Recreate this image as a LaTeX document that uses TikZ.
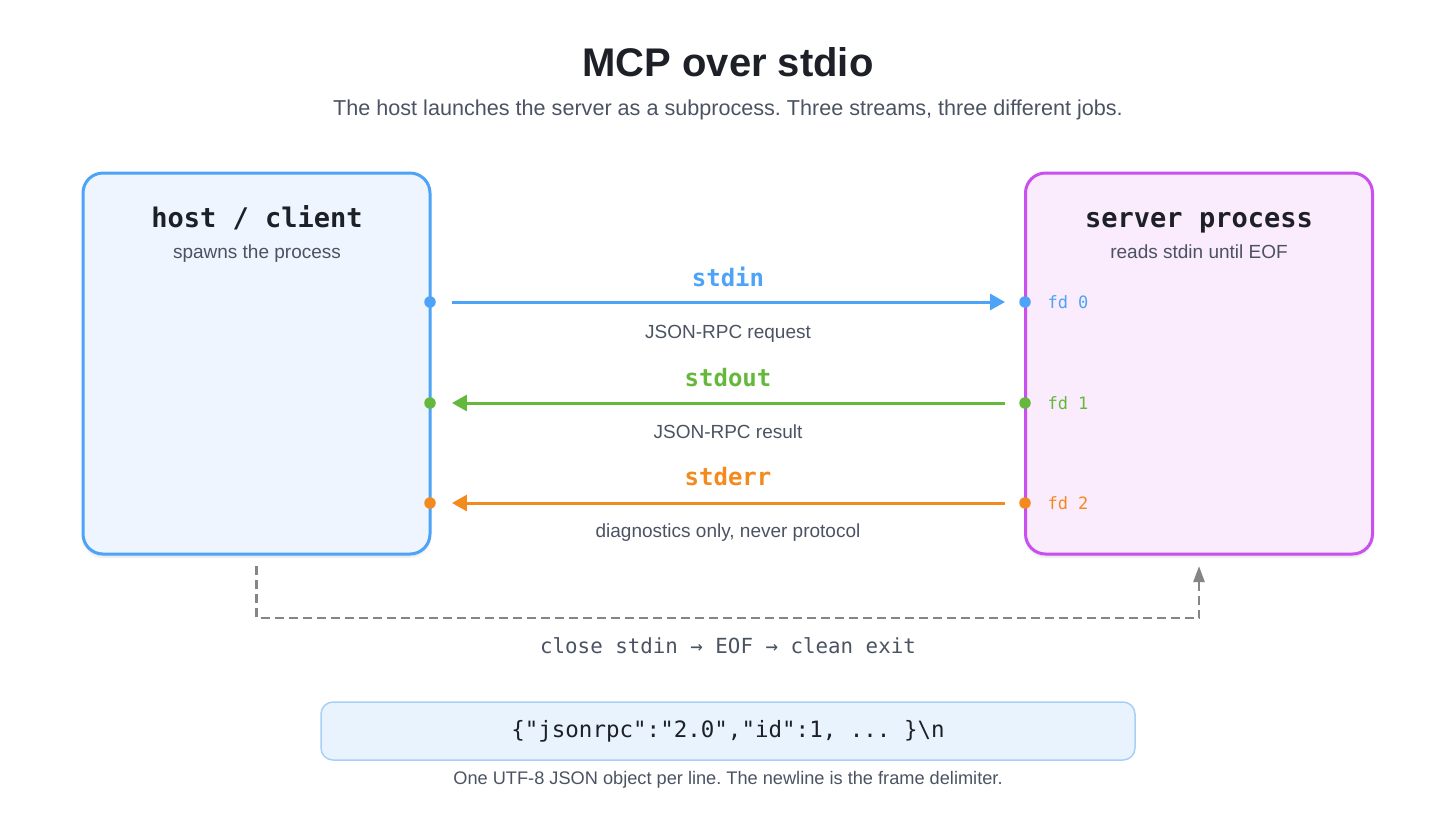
\documentclass[tikz,border=0pt]{standalone}
\usepackage{fontspec}
\setmainfont{Liberation Sans}
\setsansfont{Liberation Sans}
\setmonofont{DejaVu Sans Mono}
\usetikzlibrary{arrows.meta, positioning, shadows.blur}
\frenchspacing

\definecolor{inblue}{HTML}{4DA3F7}
\definecolor{outgreen}{HTML}{64B93C}
\definecolor{errorange}{HTML}{F38A1E}
\definecolor{srvpurple}{HTML}{C94FEF}
\definecolor{hostfill}{HTML}{EEF5FE}
\definecolor{srvfill}{HTML}{FAEBFD}
\definecolor{ink}{HTML}{1D2127}
\definecolor{slate}{HTML}{4B5363}
\definecolor{dashgrey}{HTML}{858585}
\definecolor{framefill}{HTML}{E9F3FD}
\definecolor{frameline}{HTML}{A8D0F6}

\tikzset{
  procbox/.style={draw, line width=3pt, rounded corners=20pt,
    minimum width=347pt, minimum height=381pt,
    blur shadow={shadow xshift=0pt, shadow yshift=-3pt,
      shadow blur steps=6, shadow opacity=12}},
  boxtitle/.style={anchor=base, text=ink, font=\ttfamily\bfseries\fontsize{27}{32}\selectfont},
  port/.style={circle, inner sep=0pt, minimum size=11.5pt},
  stream/.style={line width=3pt, -{Triangle[length=15pt, width=16pt]}},
  streamname/.style={font=\ttfamily\bfseries\fontsize{24}{28}\selectfont},
  note/.style={anchor=base, text=slate, font=\fontsize{19}{22}\selectfont},
  fdlabel/.style={anchor=west, font=\ttfamily\fontsize{17}{20}\selectfont},
  exitpath/.style={line width=2.5pt, dashgrey, dash pattern=on 9pt off 5pt,
    -{Triangle[length=16pt, width=11pt]}},
}

\begin{document}
\begin{tikzpicture}[x=1pt, y=-1pt]
  \useasboundingbox (0,0) rectangle (1456,815);

  % titulo
  \node[text=ink, font=\bfseries\fontsize{40}{46}\selectfont] (title) at (728,62) {MCP over stdio};
  \node[text=slate, font=\fontsize{21.6}{25}\selectfont] (subtitle) at (728,110)
    {The host launches the server as a subprocess. Three streams, three different jobs.};

  % caixas dos processos
  \node[procbox, draw=inblue, fill=hostfill] (host) at (256.5,363.5) {};
  \node[procbox, draw=srvpurple, fill=srvfill] (server) at (1199,363.5) {};
  \node[boxtitle] (hosttitle) at (257,227) {host / client};
  \node[note] (hostnote) at (257,258.5) {spawns the process};
  \node[boxtitle] (srvtitle) at (1199,227) {server process};
  \node[note] (srvnote) at (1199,258.5) {reads stdin until EOF};

  % portas
  \node[port, fill=inblue] (hin) at (430,302) {};
  \node[port, fill=outgreen] (hout) at (430,403) {};
  \node[port, fill=errorange] (herr) at (430,503) {};
  \node[port, fill=inblue] (sin) at (1025,302) {};
  \node[port, fill=outgreen] (sout) at (1025,403) {};
  \node[port, fill=errorange] (serr) at (1025,503) {};
  \node[fdlabel, text=inblue] (fd0) at (1044,302) {fd 0};
  \node[fdlabel, text=outgreen] (fd1) at (1044,403) {fd 1};
  \node[fdlabel, text=errorange] (fd2) at (1044,503) {fd 2};

  % fluxos
  \draw[stream, inblue, shorten <=16pt, shorten >=14pt] (hin) -- (sin);
  \draw[stream, outgreen, shorten <=14pt, shorten >=16pt] (sout) -- (hout);
  \draw[stream, errorange, shorten <=14pt, shorten >=16pt] (serr) -- (herr);
  \node[streamname, text=inblue] (inname) at (728,277) {stdin};
  \node[streamname, text=outgreen] (outname) at (728,378) {stdout};
  \node[streamname, text=errorange] (errname) at (728,477) {stderr};
  \node[note] (innote) at (728,338) {JSON-RPC request};
  \node[note] (outnote) at (728,438) {JSON-RPC result};
  \node[note] (errnote) at (728,537.5) {diagnostics only, never protocol};

  % encerramento
  \draw[exitpath] ([yshift=-10.5pt]host.south) -- ++(0,52) -| ([yshift=-10.5pt]server.south);
  \node[text=slate, font=\ttfamily\fontsize{20.8}{24}\selectfont] (exitnote) at (728,646)
    {close stdin → EOF → clean exit};

  % quadro
  \node[draw=frameline, fill=framefill, line width=1.5pt, rounded corners=12pt,
    minimum width=814pt, minimum height=58pt, text=ink,
    font=\ttfamily\fontsize{22.5}{27}\selectfont] (frame) at (728,731)
    {\{"jsonrpc":"2.0","id":1, ... \}\textbackslash n};
  \node[text=slate, font=\fontsize{18.2}{21}\selectfont] (framenote) at (728,780)
    {One UTF-8 JSON object per line. The newline is the frame delimiter.};
\end{tikzpicture}
\end{document}
